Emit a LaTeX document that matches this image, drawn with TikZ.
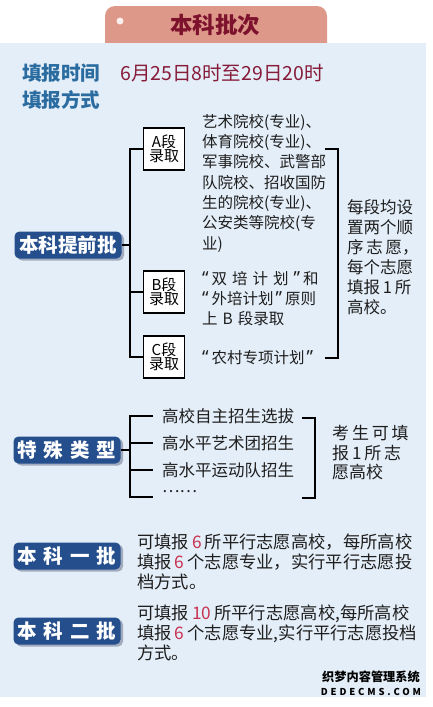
\documentclass[tikz,border=0pt]{standalone}
\usepackage{fontspec}
\setmainfont{Noto Sans CJK SC}
\newfontfamily\qfont{Noto Sans}
\usetikzlibrary{shadows}

\definecolor{panelblue}{RGB}{228,238,248}
\definecolor{tabred}{RGB}{222,152,138}
\definecolor{titlered}{RGB}{125,18,45}
\definecolor{headblue}{RGB}{42,108,160}
\definecolor{datered}{RGB}{135,28,58}
\definecolor{boxblue}{RGB}{36,78,140}
\definecolor{shadowgray}{RGB}{160,172,190}
\definecolor{numred}{RGB}{200,50,80}
\definecolor{txtblack}{RGB}{30,30,30}

\newcommand{\rn}[1]{\hspace{3pt}\textcolor{numred}{#1}\hspace{3pt}}
\newcommand{\lqt}{{\qfont\fontsize{18}{18}\selectfont “}\hspace{3pt}}
\newcommand{\rqt}{\hspace{2pt}{\qfont\fontsize{18}{18}\selectfont ”}\hspace{3pt}}

\begin{document}
\begin{tikzpicture}[x=1pt,y=-1pt,
  catbox/.style={fill=boxblue, text=white, rounded corners=5pt,
    font=\fontsize{19.5}{20}\selectfont\bfseries,
    minimum width=107pt, minimum height=27pt, inner xsep=2pt,
    drop shadow={shadow xshift=2.5pt, shadow yshift=-2pt, fill=shadowgray, opacity=1}},
  segbox/.style={draw=black, line width=1.6pt, fill=white, align=center,
    font=\fontsize{15}{14.5}\selectfont, minimum width=41pt, minimum height=42pt,
    inner sep=1pt},
  body/.style={align=left, inner sep=0pt, text=txtblack, anchor=north west,
    font=\fontsize{15.5}{20.3}\selectfont},
  item/.style={inner sep=0pt, text=txtblack, anchor=west,
    font=\fontsize{16.5}{20}\selectfont},
  brk/.style={line width=1.6pt, black}
]

% -----------------------------
% Canvas and panel
% -----------------------------
\useasboundingbox (0,0) rectangle (432,707);
\fill[white] (0,0) rectangle (432,707);
\fill[tabred, rounded corners=10pt] (105,55) -- (105,6) -- (327,6) -- (327,55) -- cycle;
\fill[panelblue] (0,43) rectangle (426,697);
\fill[white!85!tabred] (120,21) circle (3.5);
\node[text=titlered, font=\fontsize{22.5}{22}\selectfont\bfseries] (ttl) at (215,25) {本科批次};

% -----------------------------
% Time and mode
% -----------------------------
\node[anchor=west, inner sep=0pt, text=headblue, font=\fontsize{19.5}{20}\selectfont\bfseries]
  (sjl) at (22,73) {填报时间};
\node[anchor=west, inner sep=0pt, text=datered, font=\fontsize{19.5}{20}\selectfont]
  (sjv) at (120,73) {6月25日8时至29日20时};
\node[anchor=west, inner sep=0pt, text=headblue, font=\fontsize{19.5}{20}\selectfont\bfseries]
  (fsl) at (22,100) {填报方式};

% -----------------------------
% Early batch
% -----------------------------
\node[catbox] (tqp) at (68,245) {本科提前批};
\node[segbox] (sa) at (164,149) {A段\\录取};
\node[segbox] (sb) at (164,292) {B段\\录取};
\node[segbox] (sc) at (164,357) {C段\\录取};

\node[body] (ta) at (202,114) {艺术院校(专业)、\\体育院校(专业)、\\军事院校、武警部\\队院校、招收国防\\生的院校(专业)、\\公安类等院校(专\\业)};
\node[body] (tb) at (202,271) {\lqt 双\hspace{5pt}培\hspace{5pt}计\hspace{5pt}划\hspace{3pt}\rqt 和\\\lqt 外培计划\rqt 原则\\上\hspace{5pt}B\hspace{5pt}段录取};
\node[body, anchor=west] (tc) at (202,358) {\lqt 农村专项计划\rqt};

\node[body, anchor=west, font=\fontsize{16.5}{20}\selectfont] (rt) at (347,257)
  {每段均设\\置两个顺\\序\,志\,愿，\\每个志愿\\填报\,1\,所\\高校。};

\coordinate (ja) at (130,0);
\coordinate (rb) at (338,0);
\coordinate (ae) at (325,149);
\coordinate (ce) at (325,358);
\draw[brk] (tqp.east) -- (tqp.east -| ja);
\draw[brk] (sa.west) -- (sa.west -| ja) -- (sc.west -| ja) -- (sc.west);
\draw[brk] (sb.west) -- (sb.west -| ja);
\draw[brk] (ae) -- (ae -| rb) -- (ce -| rb) -- (ce);

% -----------------------------
% Special types
% -----------------------------
\node[catbox] (tsl) at (67,450) {特\hspace{7pt}殊\hspace{7pt}类\hspace{7pt}型};
\node[item] (i1) at (162,416) {高校自主招生选拔};
\node[item] (i2) at (162,443) {高水平艺术团招生};
\node[item] (i3) at (162,470) {高水平运动队招生};
\node[item] (i4) at (162,492) {……};
\node[item, font=\fontsize{17}{19.5}\selectfont, align=left] (st) at (332,453)
  {考\,生\,可\,填\\报\,1\,所\,志\\愿高校};

\coordinate (jb) at (130,0);
\coordinate (tk) at (153,0);
\coordinate (d4) at (153,497);
\coordinate (sr) at (315,0);
\coordinate (s1) at (302,418);
\coordinate (s4) at (302,498);
\draw[brk] (tsl.east) -- (tsl.east -| jb);
\draw[brk] (i1.west -| tk) -- (i1.west -| jb) -- (d4 -| jb) -- (d4);
\foreach \i in {2,3}
  \draw[brk] (i\i.west -| jb) -- (i\i.west -| tk);
\draw[brk] (s1) -- (s1 -| sr) -- (s4 -| sr) -- (s4);

% -----------------------------
% First and second batch
% -----------------------------
\node[catbox] (yp) at (67,556) {本\hspace{7pt}科\hspace{7pt}一\hspace{7pt}批};
\node[body, anchor=west, font=\fontsize{17.3}{20}\selectfont] (yt) at (137,562)
  {可填报\rn{6}所平行志愿高校，每所高校\\填报\rn{6}个志愿专业，实行平行志愿投\\档方式。};
\node[catbox] (ep) at (67,631) {本\hspace{7pt}科\hspace{7pt}二\hspace{7pt}批};
\node[body, anchor=west, font=\fontsize{17.3}{20}\selectfont] (et) at (137,633)
  {可填报\rn{10}所平行志愿高校,每所高校\\填报\rn{6}个志愿专业,实行平行志愿投档\\方式。};

% watermark
\node[font=\fontsize{12.2}{12}\selectfont\bfseries, inner sep=0pt] (wm1) at (371,677) {织梦内容管理系统};
\node[font=\fontsize{9.5}{9}\selectfont\bfseries\addfontfeature{LetterSpace=30}, inner sep=0pt] (wm2) at (371,692) {DEDECMS.COM};

\end{tikzpicture}
\end{document}
